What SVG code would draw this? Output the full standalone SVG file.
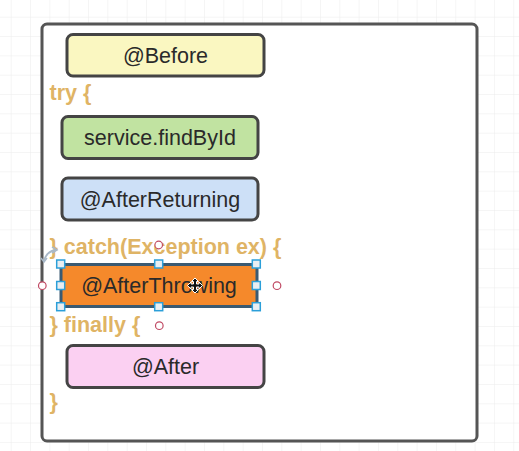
<svg xmlns="http://www.w3.org/2000/svg" width="519" height="451" viewBox="0 0 519 451">
  <style>
    .box { stroke: #444; stroke-width: 3; }
    .lbl { font-family: "Liberation Sans", Arial, sans-serif; font-size: 21.5px; fill: #2a2a2a; text-anchor: middle; }
    .code { font-family: "Liberation Sans", Arial, sans-serif; font-size: 21.5px; font-weight: bold; fill: #dfb465; }
    .handle { fill: #e9eef2; stroke: #2b9fd9; stroke-width: 1.5; }
    .pt { fill: #fff; stroke: #c04a64; stroke-width: 1.2; }
  </style>
  <defs>
    <pattern id="grid" x="10.7" y="16.7" width="19.33" height="19.33" patternUnits="userSpaceOnUse">
      <path d="M0 0 H19.33 M0 0 V19.33" fill="none" stroke="#ececec" stroke-width="1"/>
    </pattern>
  </defs>
  <rect x="0" y="0" width="519" height="451" fill="#fff"/>
  <rect x="0" y="0" width="519" height="451" fill="url(#grid)"/>

  <g id="container">
    <rect x="42" y="24" width="435" height="417" rx="5" fill="#fff" stroke="#555" stroke-width="3"/>
  </g>

  <g id="code-text">
    <text class="code" x="49.5" y="100">try {</text>
    <text class="code" x="49.5" y="254">} catch(Exception ex) {</text>
    <text class="code" x="49.5" y="332">} finally {</text>
    <text class="code" x="49.5" y="409">}</text>
  </g>

  <g id="before">
    <rect class="box" x="67" y="34.5" width="197" height="41.5" rx="6" fill="#faf7c1"/>
    <text class="lbl" x="165.5" y="63">@Before</text>
  </g>

  <g id="findById">
    <rect class="box" x="62" y="116.5" width="196" height="42" rx="6" fill="#c1e3a1"/>
    <text class="lbl" x="160" y="145">service.findById</text>
  </g>

  <g id="afterReturning">
    <rect class="box" x="62" y="178" width="196" height="42" rx="6" fill="#cde0f7"/>
    <text class="lbl" x="160" y="206.5">@AfterReturning</text>
  </g>

  <g id="afterThrowing">
    <rect x="61" y="264.5" width="196" height="42" rx="2" fill="#f5892b" stroke="#3a5a72" stroke-width="3"/>
    <text class="lbl" x="159" y="293" fill="#3a2614">@AfterThrowing</text>
  </g>

  <g id="after">
    <rect class="box" x="67" y="345.5" width="197" height="42" rx="6" fill="#fbd0f2"/>
    <text class="lbl" x="165.5" y="374">@After</text>
  </g>

  <g id="connectors"></g>

  <g id="selection">
    <rect class="handle" x="56.7" y="260" width="8" height="8"/>
    <rect class="handle" x="154.7" y="260" width="8" height="8"/>
    <rect class="handle" x="252.3" y="260" width="8" height="8"/>
    <rect class="handle" x="56.7" y="281.5" width="8" height="8"/>
    <rect class="handle" x="252.3" y="281.5" width="8" height="8"/>
    <rect class="handle" x="56.7" y="302.7" width="8" height="8"/>
    <rect class="handle" x="154.7" y="302.7" width="8" height="8"/>
    <rect class="handle" x="252.3" y="302.7" width="8" height="8"/>
    <circle class="pt" cx="158.7" cy="245" r="3.8"/>
    <circle class="pt" cx="42.3" cy="285.7" r="3.8"/>
    <circle class="pt" cx="277" cy="285.7" r="3.8"/>
    <circle class="pt" cx="159.3" cy="325.7" r="3.8"/>
    <path d="M44 261 Q46 252 55 250" fill="none" stroke="#a8b8c8" stroke-width="1.8"/>
    <path d="M52 247 L57 250 L52 253" fill="none" stroke="#a8b8c8" stroke-width="1.5"/>
    <path d="M41 258 L44 262 L47 258" fill="none" stroke="#a8b8c8" stroke-width="1.5"/>
    <path d="M195 278 L198.5 281.5 L196.5 281.5 L196.5 284 L199 284 L199 282 L202.5 285.5 L199 289 L199 287 L196.5 287 L196.5 289.5 L198.5 289.5 L195 293 L191.5 289.5 L193.5 289.5 L193.5 287 L191 287 L191 289 L187.5 285.5 L191 282 L191 284 L193.5 284 L193.5 281.5 L191.5 281.5 Z" fill="#111" stroke="#fff" stroke-width="1"/>
  </g>
</svg>
